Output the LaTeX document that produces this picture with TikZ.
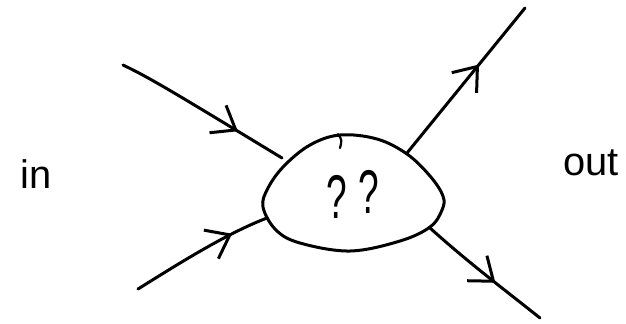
\documentclass[tikz,border=0pt]{standalone}
\usepackage{fontspec}
\setmainfont{Liberation Sans}
\usetikzlibrary{arrows.meta,decorations.markings}
\begin{document}
\begin{tikzpicture}[x=1bp,y=-1bp,line width=3bp,line cap=round,line join=round,
  flow/.style={postaction={decorate},decoration={markings,
    mark=at position #1 with {\arrow{Straight Barb[length=21bp,width=32bp,line width=3bp]}}}},
  word/.style={font=\fontsize{40}{40}\selectfont,inner sep=0pt},
  qmark/.style={font=\fontsize{62}{62}\selectfont,inner sep=0pt,xscale=0.6}]
\useasboundingbox (0,0) rectangle (626,323);
% blob
\draw plot[smooth cycle,tension=0.6] coordinates {
  (340,135) (310,145) (284,166) (268,188) (263,207) (276,230) (300,243)
  (350,251) (400,241) (430,227) (442,210) (443,196) (430,176) (407,154) (377,139)};
\draw[line width=2.2bp] (338,134) .. controls (342,140) .. (340,148);
% endpoints
\coordinate (a) at (123,65);   \coordinate (ae) at (282,158);
\coordinate (b) at (138,289);  \coordinate (be) at (267,218);
\coordinate (c) at (407,153);  \coordinate (ce) at (525,8);
\coordinate (d) at (430,228);  \coordinate (de) at (540,318);
\draw[flow=0.72] (a) .. controls (150,78) and (170,90) .. (ae);
\draw[flow=0.74] (b) .. controls (175,266) and (225,234) .. (be);
\draw[flow=0.61] (c) -- (ce);
\draw[flow=0.6] (d) .. controls (470,264) and (505,290) .. (de);
% texts
\node[qmark] (q1) at (337,197) {?};
\node[qmark] (q2) at (369,192) {?};
\node[word] (in) at (36,174) {in};
\node[word] (out) at (591,163) {out};
\end{tikzpicture}
\end{document}
